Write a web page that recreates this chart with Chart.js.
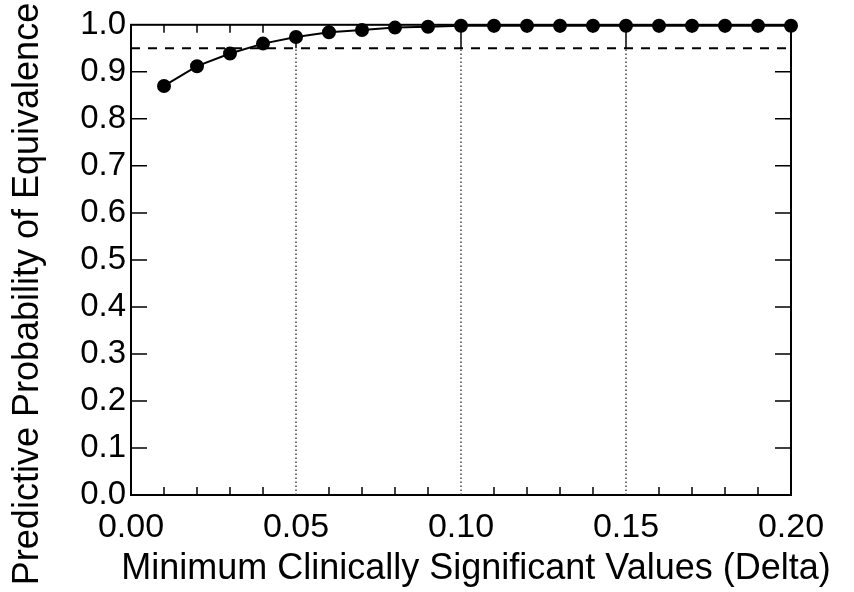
<!DOCTYPE html>
<html>
<head>
<meta charset="utf-8">
<script src="https://cdn.jsdelivr.net/npm/chart.js@4.4.1/dist/chart.umd.min.js"></script>
<style>
  html, body { margin: 0; padding: 0; background: #fff; }
  #wrap { width: 854px; height: 592px; }
</style>
</head>
<body>
<div id="wrap"><canvas id="pEquiv"></canvas></div>
<script>
// valores
var deltas = [0.01, 0.02, 0.03, 0.04, 0.05, 0.06, 0.07, 0.08, 0.09, 0.10,
              0.11, 0.12, 0.13, 0.14, 0.15, 0.16, 0.17, 0.18, 0.19, 0.20];
var probs = [0.870, 0.912, 0.939, 0.960, 0.974, 0.984, 0.989, 0.994, 0.996, 0.998,
             0.998, 0.998, 0.998, 0.998, 0.998, 0.998, 0.998, 0.998, 0.998, 0.998];
var umbral = 0.95;
var cortes = [0.05, 0.10, 0.15];
var xTickLabels = ["0.00", "0.05", "0.10", "0.15", "0.20"];
var yTickLabels = ["0.0", "0.1", "0.2", "0.3", "0.4", "0.5", "0.6", "0.7", "0.8", "0.9", "1.0"];
var xTitulo = "Minimum Clinically Significant Values (Delta)";
var yTitulo = "Predictive Probability of Equivalence";

var fuente = '"Liberation Sans", Arial, sans-serif';

function dibujar() {
    var ctx = document.getElementById("pEquiv");

    var puntos = deltas.map(function (d, i) { return { x: d, y: probs[i] }; });

    var datasets = [{
        label: 'Probabilidad',
        data: puntos,
        showLine: true,
        borderColor: '#000',
        backgroundColor: '#000',
        borderWidth: 2,
        pointRadius: 6,
        pointHoverRadius: 6,
        clip: false,
        order: 0
    }, {
        label: 'umbral',
        data: [{ x: 0, y: umbral }, { x: 0.20, y: umbral }],
        showLine: true,
        borderColor: '#000',
        borderWidth: 2,
        borderDash: [9, 8],
        pointRadius: 0,
        order: 2
    }];

    cortes.forEach(function (c) {
        var idx = deltas.findIndex(function (d) { return Math.abs(d - c) < 1e-9; });
        datasets.push({
            label: 'corte',
            data: [{ x: c, y: 0 }, { x: c, y: umbral }],
            showLine: true,
            borderColor: '#222',
            borderWidth: 1.3,
            borderDash: [1.5, 2.5],
            pointRadius: 0,
            order: 3
        });
        datasets.push({
            label: 'caida',
            data: [{ x: c, y: umbral }, { x: c, y: probs[idx] }],
            showLine: true,
            borderColor: '#000',
            borderWidth: 1.5,
            pointRadius: 0,
            order: 1
        });
    });

    // marco, marcas hacia dentro y titulos de ejes
    var marco = {
        id: 'marco',
        beforeDatasetsDraw: function (chart) {
            var a = chart.chartArea, c = chart.ctx;
            var xs = chart.scales.x, ys = chart.scales.y;
            c.save();
            c.strokeStyle = '#000';
            c.lineWidth = 2;
            c.strokeRect(a.left, a.top, a.right - a.left, a.bottom - a.top);
            c.lineWidth = 1.5;
            c.beginPath();
            for (var i = 1; i < yTickLabels.length - 1; i++) {
                var py = ys.getPixelForValue(i / 10);
                c.moveTo(a.left, py); c.lineTo(a.left + 16, py);
                c.moveTo(a.right, py); c.lineTo(a.right - 16, py);
            }
            for (var j = 1; j < 20; j++) {
                if (j % 5 === 0) continue;
                var px = xs.getPixelForValue(j / 100);
                c.moveTo(px, a.bottom); c.lineTo(px, a.bottom - 8);
                c.moveTo(px, a.top); c.lineTo(px, a.top + 8);
            }
            c.stroke();
            c.restore();
        },
        afterDraw: function (chart) {
            var c = chart.ctx;
            c.save();
            c.fillStyle = '#000';
            c.font = '36px ' + fuente;
            c.textAlign = 'center';
            c.textBaseline = 'alphabetic';
            c.fillText(xTitulo, 476, 579);
            c.translate(38, 294);
            c.rotate(-Math.PI / 2);
            c.fillText(yTitulo, 0, 0);
            c.restore();
        }
    };

    new Chart(ctx, {
        type: 'scatter',
        data: { datasets: datasets },
        plugins: [marco],
        options: {
            responsive: true,
            maintainAspectRatio: false,
            animation: false,
            layout: { padding: { left: 0, top: 24, right: 63, bottom: 0 } },
            plugins: {
                legend: { display: false },
                tooltip: { enabled: false }
            },
            scales: {
                x: {
                    type: 'linear',
                    min: 0,
                    max: 0.20,
                    grid: { display: false, drawTicks: false },
                    border: { display: false },
                    afterFit: function (s) { s.height = 97; },
                    ticks: {
                        stepSize: 0.05,
                        padding: 12,
                        color: '#000',
                        font: { family: fuente, size: 34 },
                        maxRotation: 0,
                        callback: function (v) {
                            return xTickLabels[Math.round(v / 0.05)];
                        }
                    }
                },
                y: {
                    min: 0,
                    max: 1.0,
                    grid: { display: false, drawTicks: false },
                    border: { display: false },
                    afterFit: function (s) { s.width = 131; },
                    ticks: {
                        stepSize: 0.1,
                        padding: 5,
                        color: '#000',
                        font: { family: fuente, size: 33 },
                        callback: function (v) {
                            return yTickLabels[Math.round(v * 10)];
                        }
                    }
                }
            }
        }
    });
}
dibujar();
</script>
</body>
</html>
